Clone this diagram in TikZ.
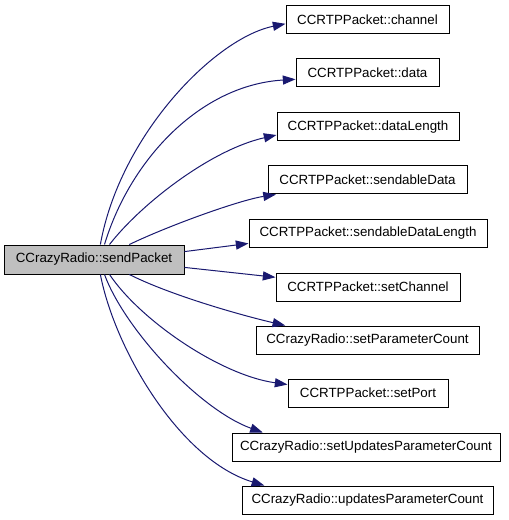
\documentclass[tikz,border=0pt]{standalone}
\usepackage{fontspec}
\setmainfont{Liberation Sans}
\usetikzlibrary{arrows.meta}
\definecolor{edgeblue}{HTML}{191970}
\definecolor{srcgrey}{HTML}{BFBFBF}
\tikzset{
  fn/.style={draw=black, line width=0.75pt, minimum height=21pt, inner sep=0pt, font=\fontsize{10}{12}\selectfont, anchor=center},
  srcbox/.style={fn, fill=srcgrey},
  call/.style={draw=edgeblue, line width=0.75pt, -{Triangle[length=9.5pt, width=6.8pt, fill=edgeblue]}},
}
\begin{document}
\begin{tikzpicture}[x=0.75pt, y=-0.75pt]
\useasboundingbox (0,0) rectangle (509,520);
\node[srcbox, minimum width=135pt, minimum height=21.75pt] (src) at (94,259.5) {CCrazyRadio::sendPacket};
\node[fn, minimum width=122.25pt] (t1) at (367.5,19.5) {CCRTPPacket::channel};
\node[fn, minimum width=107.25pt] (t2) at (367.5,73) {CCRTPPacket::data};
\node[fn, minimum width=136.5pt] (t3) at (368,127) {CCRTPPacket::dataLength};
\node[fn, minimum width=149.25pt] (t4) at (367.5,180) {CCRTPPacket::sendableData};
\node[fn, minimum width=178.5pt] (t5) at (368,233) {CCRTPPacket::sendableDataLength};
\node[fn, minimum width=138pt] (t6) at (368,287) {CCRTPPacket::setChannel};
\node[fn, minimum width=167.25pt] (t7) at (367.5,340) {CCrazyRadio::setParameterCount};
\node[fn, minimum width=120pt] (t8) at (368,393) {CCRTPPacket::setPort};
\node[fn, minimum width=201pt] (t9) at (366,447) {CCrazyRadio::setUpdatesParameterCount};
\node[fn, minimum width=188.25pt] (t10) at (367.5,500) {CCrazyRadio::updatesParameterCount};
\draw[call] (src.67.5) .. controls (120,135) and (215,38) .. (t1.183.9);
\draw[call] (src.55.4) .. controls (130,160) and (200,85) .. (t2.185.7);
\draw[call] (src.44) .. controls (140,205) and (210,150) .. (t3.185.6);
\draw[call] (src.23.7) .. controls (170,225) and (240,200) .. (t4.189.4);
\draw[call] (src.5.4) -- (t5.185.8);
\draw[call] (src.-5.4) -- (t6.174.4);
\draw[call] (src.-23.7) .. controls (170,295) and (240,315) .. (t7.170.5);
\draw[call] (src.-44) .. controls (140,320) and (220,375) .. (t8.174.3);
\draw[call] (src.-55.4) .. controls (125,330) and (200,410) .. (t9.172.6);
\draw[call] (src.-67.5) .. controls (115,350) and (180,460) .. (t10.172.8);
\end{tikzpicture}
\end{document}
